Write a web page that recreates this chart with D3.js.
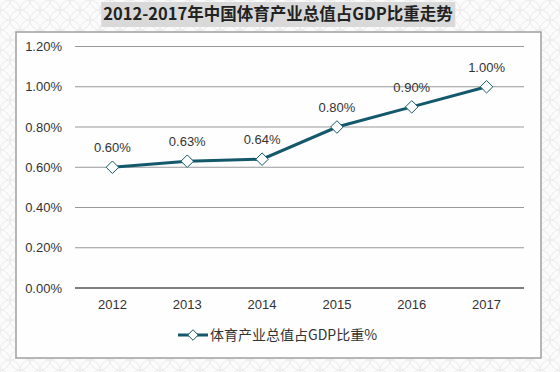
<!DOCTYPE html>
<html>
<head>
<meta charset="utf-8">
<script src="https://cdn.jsdelivr.net/npm/d3@7"></script>
<style>
  body { margin: 0; background: #fff; }
  svg { display: block; font-family: "Liberation Sans", Arial, sans-serif; }
</style>
</head>
<body>
<svg id="chart" width="560" height="372"></svg>
<script>
const years = ["2012", "2013", "2014", "2015", "2016", "2017"];
const shares = [0.60, 0.63, 0.64, 0.80, 0.90, 1.00];
const yTicks = [0, 0.2, 0.4, 0.6, 0.8, 1.0, 1.2];
const seriesName = "体育产业总值占GDP比重%";
const title = "2012-2017年中国体育产业总值占GDP比重走势";

const svg = d3.select("#chart");
const width = +svg.attr("width");
const height = +svg.attr("height");
const lineColor = "#14596b";

// background pattern
const defs = svg.append("defs");
const pat = defs.append("pattern")
  .attr("id", "bg")
  .attr("width", 20).attr("height", 20)
  .attr("patternUnits", "userSpaceOnUse");
pat.append("rect").attr("width", 20).attr("height", 20).attr("fill", "#fbfbfb");
[[0, 0], [20, 0], [0, 20], [20, 20], [10, 10]].forEach(c => {
  pat.append("circle").attr("cx", c[0]).attr("cy", c[1]).attr("r", 10)
    .attr("fill", "none").attr("stroke", "#ececec").attr("stroke-width", 1);
});
svg.append("rect").attr("width", width).attr("height", height).attr("fill", "url(#bg)");

// frame
svg.append("rect")
  .attr("x", 16).attr("y", 32)
  .attr("width", 525).attr("height", 326)
  .attr("fill", "#fefefe")
  .attr("stroke", "#a0a0a0")
  .attr("stroke-width", 1.5);

// title
const titleText = svg.append("text")
  .attr("x", 278).attr("y", 20)
  .attr("text-anchor", "middle")
  .attr("font-family", "'Noto Sans CJK SC', sans-serif")
  .attr("font-size", 16.5)
  .attr("font-weight", "bold")
  .attr("fill", "#222")
  .text(title);
const tb = titleText.node().getBBox();
svg.insert("rect", "text")
  .attr("x", tb.x - 2).attr("y", 2)
  .attr("width", tb.width + 4).attr("height", 25)
  .attr("fill", "#d9d9d9");

const x = d3.scaleBand().domain(years).range([75, 524]);
const y = d3.scaleLinear().domain([0, 1.2]).range([288, 46.5]);

// grid
svg.append("g")
  .selectAll("line")
  .data(yTicks)
  .join("line")
  .attr("x1", 75).attr("x2", 524)
  .attr("y1", d => y(d)).attr("y2", d => y(d))
  .attr("stroke", d => d === 0 ? "#555" : "#999")
  .attr("stroke-width", d => d === 0 ? 1.3 : 1);

// y axis labels
svg.append("g")
  .selectAll("text")
  .data(yTicks)
  .join("text")
  .attr("x", 62)
  .attr("y", d => y(d) + 4.5)
  .attr("text-anchor", "end")
  .attr("font-size", 13)
  .attr("fill", "#333")
  .text(d => d3.format(".2f")(d) + "%");

// x axis labels
svg.append("g")
  .selectAll("text")
  .data(years)
  .join("text")
  .attr("x", d => x(d) + x.bandwidth() / 2)
  .attr("y", 309)
  .attr("text-anchor", "middle")
  .attr("font-size", 13)
  .attr("fill", "#333")
  .text(d => d);

const pts = years.map((yr, i) => ({ yr, v: shares[i] }));
const cx = d => x(d.yr) + x.bandwidth() / 2;

svg.append("path")
  .datum(pts)
  .attr("fill", "none")
  .attr("stroke", lineColor)
  .attr("stroke-width", 3)
  .attr("d", d3.line().x(cx).y(d => y(d.v)));

const diamond = d3.symbol().type(d3.symbolDiamond2).size(100);
svg.append("g")
  .selectAll("path")
  .data(pts)
  .join("path")
  .attr("d", diamond)
  .attr("transform", d => `translate(${cx(d)},${y(d.v)})`)
  .attr("fill", "#fff")
  .attr("stroke", lineColor)
  .attr("stroke-width", 1);

svg.append("g")
  .selectAll("text")
  .data(pts)
  .join("text")
  .attr("x", cx)
  .attr("y", d => y(d.v) - 15)
  .attr("text-anchor", "middle")
  .attr("font-size", 13)
  .attr("fill", "#333")
  .text(d => d3.format(".2f")(d.v) + "%");

// legend
const lg = svg.append("g").attr("transform", "translate(178,335)");
lg.append("line").attr("x1", 0).attr("x2", 30).attr("y1", 0).attr("y2", 0)
  .attr("stroke", lineColor).attr("stroke-width", 3);
lg.append("path").attr("d", d3.symbol().type(d3.symbolDiamond2).size(70)).attr("transform", "translate(15,0)")
  .attr("fill", "#fff").attr("stroke", lineColor);
lg.append("text")
  .attr("x", 32).attr("y", 5)
  .attr("font-family", "'Noto Sans CJK SC', sans-serif")
  .attr("font-size", 14)
  .attr("fill", "#333")
  .text(seriesName);
</script>
</body>
</html>
